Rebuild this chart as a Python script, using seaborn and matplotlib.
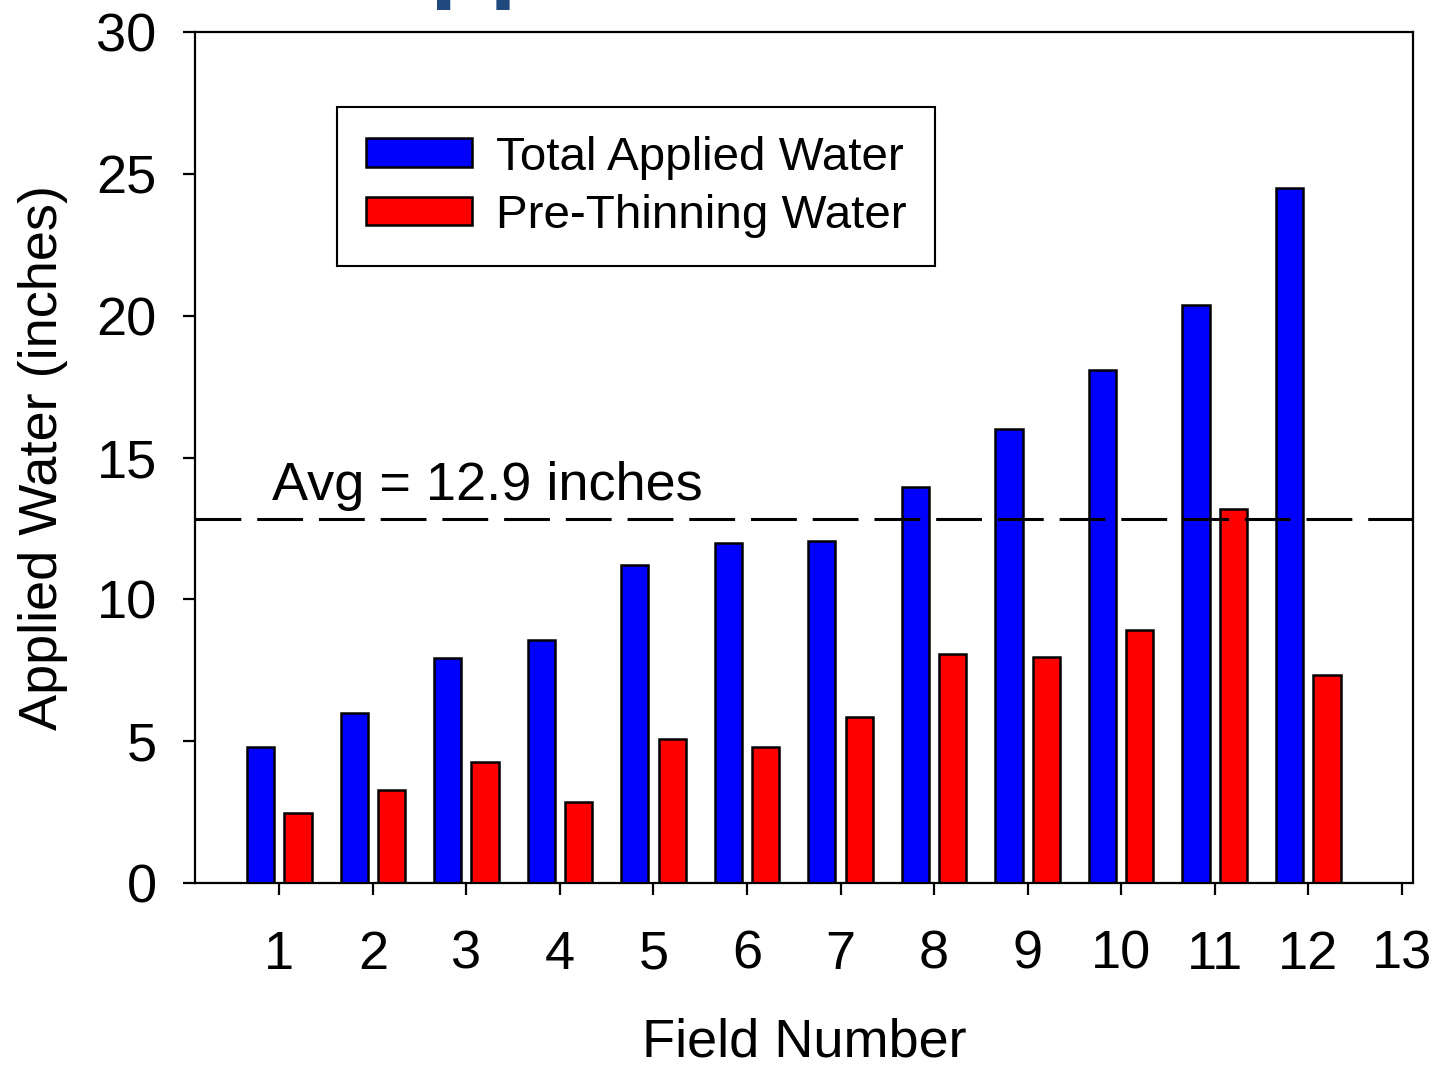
import numpy as np
import pandas as pd
import matplotlib
matplotlib.use("Agg")
import matplotlib.pyplot as plt
import seaborn as sns

# ---- data ----
fields = [1, 2, 3, 4, 5, 6, 7, 8, 9, 10, 11, 12]
total_applied = [4.8, 6.0, 7.95, 8.57, 11.2, 11.98, 12.05, 13.95, 16.02, 18.09, 20.37, 24.48]
pre_thinning = [2.49, 3.3, 4.29, 2.88, 5.09, 4.81, 5.87, 8.08, 7.97, 8.92, 13.17, 7.34]
series_names = ["Total Applied Water", "Pre-Thinning Water"]
avg_value = 12.85
avg_label = "Avg = 12.9 inches"
x_ticks = list(range(1, 14))
y_ticks = [0, 5, 10, 15, 20, 25, 30]
x_label = "Field Number"
y_label = "Applied Water (inches)"
title_text = "Applied Water"

df = pd.DataFrame({
    "field": fields * 2,
    "value": total_applied + pre_thinning,
    "series": [series_names[0]] * len(fields) + [series_names[1]] * len(fields),
})

sns.set_style("ticks")
plt.rcParams["font.family"] = ["Liberation Sans", "DejaVu Sans"]
plt.rcParams["text.color"] = "black"
plt.rcParams["axes.labelcolor"] = "black"
plt.rcParams["xtick.color"] = "black"
plt.rcParams["ytick.color"] = "black"
plt.rcParams["axes.edgecolor"] = "black"

W, H = 1438, 1066
FS = 39
fig = plt.figure(figsize=(W / 100, H / 100), dpi=100)
ax = fig.add_axes([195 / W, 1 - 883.3 / H, (1413.3 - 195) / W, (883.3 - 31.7) / H])

sns.barplot(data=df, x="field", y="value", hue="series", native_scale=True,
            palette=["#0000FF", "#FF0000"], saturation=1, width=0.8, gap=0.27,
            edgecolor="black", linewidth=1.8, errorbar=None, ax=ax)

ax.axhline(avg_value, color="black", lw=2.2, linestyle=(0, (15, 5.2)), zorder=5)
ax.text(0.92, 13.5, avg_label, fontsize=FS, ha="left", va="baseline", color="black")

ax.set_xlim(0.098, 13.124)
ax.set_ylim(0, 30)
ax.set_xticks(x_ticks)
ax.set_xticklabels([str(t) for t in x_ticks])
ax.set_yticks(y_ticks)
ax.set_yticklabels([str(t) for t in y_ticks])
ax.tick_params(axis="both", direction="out", length=8.6, width=1.6, colors="black",
               labelsize=FS)
ax.tick_params(axis="x", pad=25)
ax.tick_params(axis="y", pad=19)
for s in ax.spines.values():
    s.set_visible(True)
    s.set_linewidth(1.6)
    s.set_color("black")

ax.set_xlabel(x_label, fontsize=FS, color="black")
ax.set_ylabel(y_label, fontsize=FS, color="black")
ax.xaxis.set_label_coords(0.5, -0.157)
ax.yaxis.set_label_coords(-0.104, 0.5)

handles, labels = ax.get_legend_handles_labels()
leg = ax.legend(handles, labels, loc="upper left",
                bbox_to_anchor=(337 / W, 1 - 107 / H), bbox_transform=fig.transFigure,
                frameon=True, fancybox=False, framealpha=1, edgecolor="black",
                fontsize=34.2, handlelength=2.25, handleheight=0.55, handletextpad=0.5,
                borderpad=0.6, labelspacing=0.3, borderaxespad=0)
leg.get_frame().set_linewidth(1.5)
for t in leg.get_texts():
    t.set_color("black")

# title fragment cut off at the top of the image
fig.text(360 / W, 1 + 10 / H, title_text, fontsize=70, fontweight="bold",
         color="#1F497D", ha="left", va="baseline")

fig.savefig("out.png", dpi=100)
